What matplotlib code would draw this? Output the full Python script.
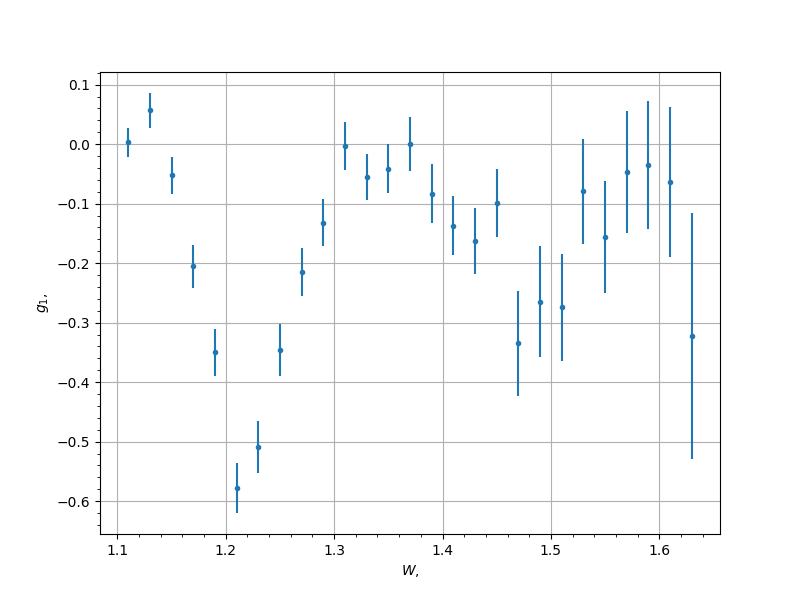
import matplotlib
matplotlib.use("Agg")
import matplotlib.pyplot as plt

W = [1.11, 1.13, 1.15, 1.17, 1.19, 1.21, 1.23, 1.25, 1.27, 1.29, 1.31, 1.33, 1.35, 1.37,
     1.39, 1.41, 1.43, 1.45, 1.47, 1.49, 1.51, 1.53, 1.55, 1.57, 1.59, 1.61, 1.63]
g1 = [0.003, 0.057, -0.052, -0.205, -0.350, -0.578, -0.509, -0.346, -0.215, -0.132,
      -0.003, -0.055, -0.041, 0.000, -0.083, -0.137, -0.163, -0.099, -0.335, -0.265,
      -0.274, -0.079, -0.156, -0.047, -0.035, -0.063, -0.322]
g1_err = [0.025, 0.029, 0.031, 0.036, 0.039, 0.042, 0.044, 0.043, 0.041, 0.040,
          0.040, 0.039, 0.041, 0.045, 0.049, 0.050, 0.055, 0.057, 0.088, 0.093,
          0.090, 0.088, 0.094, 0.102, 0.107, 0.126, 0.207]

fig, ax = plt.subplots(figsize=(8, 6), dpi=100)
ax.errorbar(W, g1, yerr=g1_err, fmt='.')
ax.set_xlabel('$W,$')
ax.set_ylabel('$g_1,$')
ax.grid(True)
ax.minorticks_on()
fig.savefig('out.png')
